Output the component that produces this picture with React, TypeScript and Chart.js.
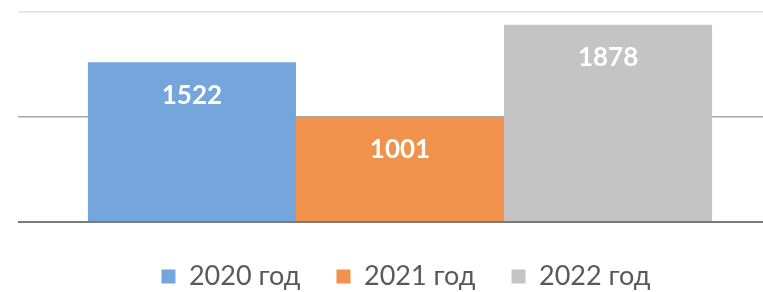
import React, { useEffect, useRef } from "react";
import { Chart, registerables } from "chart.js";

Chart.register(...registerables);

const categories = [""];
const seriesLabels = ["2020 год", "2021 год", "2022 год"];
const values2020 = [1522];
const values2021 = [1001];
const values2022 = [1878];
const seriesColors = ["#75a6db", "#f0914c", "#c4c4c4"];
const yMin = 0;
const yMax = 2000;
const yStep = 1000;

const FONT = "Lato, 'Open Sans', 'DejaVu Sans', sans-serif";

const valueLabels = {
  id: "valueLabels",
  afterDatasetsDraw(chart: any) {
    const ctx = chart.ctx;
    ctx.save();
    ctx.font = `bold 26px ${FONT}`;
    ctx.fillStyle = "#ffffff";
    ctx.textAlign = "center";
    ctx.textBaseline = "middle";
    chart.data.datasets.forEach((ds: any, i: number) => {
      const meta = chart.getDatasetMeta(i);
      meta.data.forEach((bar: any, j: number) => {
        ctx.fillText(String(ds.data[j]), bar.x, bar.y + 33);
      });
    });
    ctx.restore();
  },
};

const legendShift = {
  id: "legendShift",
  afterLayout(chart: any) {
    const lg = chart.legend;
    if (!lg) return;
    lg.left += 6;
    lg.right += 6;
    lg.top += 5;
    lg.bottom += 5;
  },
};

export default function App() {
  const ref = useRef<HTMLCanvasElement | null>(null);
  useEffect(() => {
    document.body.style.margin = "0";
    if (!ref.current) return;
    const chart = new Chart(ref.current, {
      type: "bar",
      data: {
        labels: categories,
        datasets: [
          { label: seriesLabels[0], data: values2020, backgroundColor: seriesColors[0] },
          { label: seriesLabels[1], data: values2021, backgroundColor: seriesColors[1] },
          { label: seriesLabels[2], data: values2022, backgroundColor: seriesColors[2] },
        ],
      },
      options: {
        responsive: false,
        animation: false,
        layout: { padding: { left: 18, right: 0, top: 12, bottom: 0 } },
        datasets: { bar: { categoryPercentage: 0.817, barPercentage: 1, borderWidth: 0 } },
        scales: {
          x: { display: false },
          y: {
            min: yMin,
            max: yMax,
            ticks: { display: false, stepSize: yStep },
            border: { display: false },
            grid: {
              drawTicks: false,
              color: (c: any) =>
                c.tick && c.tick.value === 0 ? "#7a7a7a" : c.tick && c.tick.value === 1000 ? "#a8a8a8" : "#e2e2e2",
              lineWidth: (c: any) => (c.tick && c.tick.value === 0 ? 2 : 1.5),
            },
          },
        },
        plugins: {
          tooltip: { enabled: false },
          legend: {
            position: "bottom",
            maxHeight: 70,
            labels: {
              boxWidth: 14,
              boxHeight: 14,
              padding: 36,
              color: "#595959",
              font: { family: FONT, size: 27, lineHeight: 1.6 },
            },
          },
        },
      },
      plugins: [valueLabels, legendShift],
    });
    return () => chart.destroy();
  }, []);
  return (
    <div style={{ position: "fixed", left: 0, top: 0, width: 763, height: 292, overflow: "hidden", background: "#fff" }}>
      <canvas ref={ref} width={782} height={292} style={{ width: 782, height: 292 }} />
    </div>
  );
}
